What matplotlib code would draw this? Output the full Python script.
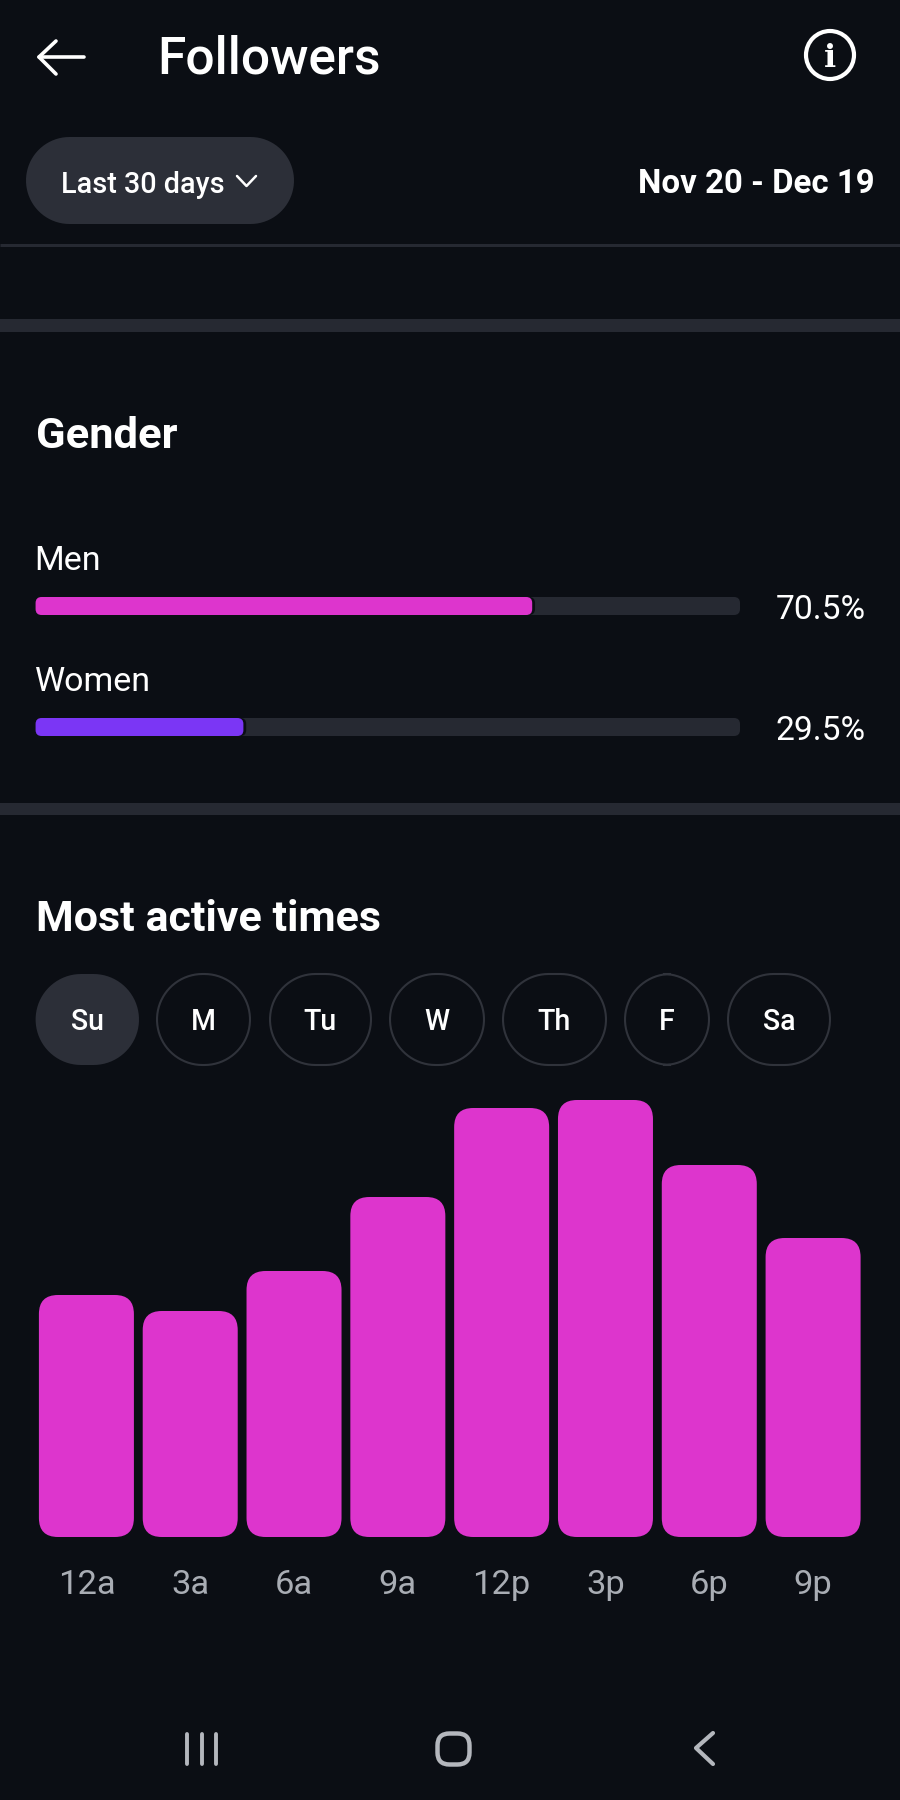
import matplotlib
matplotlib.use("Agg")
import matplotlib.pyplot as plt
from matplotlib.patches import FancyBboxPatch, Circle, Polygon
import numpy as np

plt.rcParams['font.family'] = ['Roboto', 'DejaVu Sans']

# data
genders = ["Men", "Women"]
gender_pct = [70.5, 29.5]
gender_labels = ["70.5%", "29.5%"]
gender_colors = ["#dd35cd", "#7b36f5"]

days = ["Su", "M", "Tu", "W", "Th", "F", "Sa"]
day_lefts = [35.6, 157, 270, 390, 503, 625, 728]
day_rights = [139, 250, 371, 484, 606, 709, 830]

hours = ["12a", "3a", "6a", "9a", "12p", "3p", "6p", "9p"]
activity = [242, 226, 266, 340, 429, 437, 372, 299]

BG = "#0b0e14"
PANEL = "#2c2f38"
TRACK = "#262932"
PINK = "#dd35cd"
GREY = "#a9adb4"
W, H = 900, 1800


def px(size):
    # font size in pixels to points at dpi 100
    return size * 0.72


def pixel_axes(fig, left, right, top, bottom):
    return fig.add_axes([left / W, 1 - bottom / H, (right - left) / W, (bottom - top) / H])


def stadium(left, right, top, bottom, **kw):
    # pill shape with true half circle ends
    r = (bottom - top) / 2
    cy = (top + bottom) / 2
    t = np.linspace(-np.pi / 2, np.pi / 2, 40)
    xs = np.r_[right - r + r * np.cos(t), left + r - r * np.cos(t)]
    ys = np.r_[cy + r * np.sin(t), cy - r * np.sin(t)]
    return Polygon(np.c_[xs, ys], closed=True, **kw)


fig = plt.figure(figsize=(9, 18), dpi=100, facecolor=BG)

ui = fig.add_axes([0, 0, 1, 1])
ui.set_xlim(0, W)
ui.set_ylim(H, 0)
ui.axis('off')

# header
ui.plot([39, 84], [57, 57], color="white", lw=2.6, solid_capstyle='round')
ui.plot([56, 39, 56], [41, 57, 74], color="white", lw=2.6, solid_capstyle='round', solid_joinstyle='round')
ui.text(157, 73, "Followers", color="white", fontsize=px(51.5), fontweight='medium', va='baseline')
ui.add_patch(Circle((830, 55), 24, fill=False, ec="white", lw=3))
ui.text(830, 67, "i", color="white", fontsize=px(32), fontweight='bold', family='DejaVu Serif', ha='center', va='baseline')

# range picker
ui.add_patch(stadium(26, 294, 137, 224, fc=PANEL, ec='none'))
ui.text(61, 193, "Last 30 days", color="white", fontsize=px(28.8), fontweight='medium', va='baseline')
ui.plot([237, 246.5, 256], [176, 186, 176], color="white", lw=1.8, solid_capstyle='round')
ui.text(875, 193, "Nov 20 - Dec 19", color="white", fontsize=px(33), fontweight='bold', ha='right', va='baseline')

# separators
ui.plot([0, W], [245, 245], color=TRACK, lw=2.2, solid_capstyle='butt')
for top, bottom in [(319, 332), (803, 815)]:
    ui.fill_between([0, W], top, bottom, color=TRACK, lw=0)

ui.text(35.5, 448, "Gender", color="white", fontsize=px(43.5), fontweight='bold', va='baseline')
ui.text(35.5, 931, "Most active times", color="white", fontsize=px(43), fontweight='bold', va='baseline')

# gender rows
gender_baselines = [570, 691]
pct_baselines = [619, 740]
for i in range(len(genders)):
    ui.text(34.5, gender_baselines[i], genders[i], color="white", fontsize=px(34), va='baseline')
    ui.text(865.5, pct_baselines[i], gender_labels[i], color="white", fontsize=px(33.7), ha='right', va='baseline')

gax = pixel_axes(fig, 35.6, 740, 597, 736)
gax.set_xlim(0, 100)
gax.set_ylim(1 + 9 / 121, -9 / 121)
gax.axis('off')
g_aspect = 7.044 / 121
g_round = 6 / 7.044
for i, pct in enumerate(gender_pct):
    gax.add_patch(FancyBboxPatch((0, i - 9 / 121), 100, 18 / 121,
                                 boxstyle=f"round,pad=0,rounding_size={g_round}",
                                 fc=TRACK, ec='none', mutation_aspect=g_aspect, clip_on=False))
    # thin dark gap between the fill and the track
    gax.add_patch(FancyBboxPatch((0, i - 9 / 121), pct + 0.4, 18 / 121,
                                 boxstyle=f"round,pad=0,rounding_size={g_round}",
                                 fc=BG, ec='none', mutation_aspect=g_aspect, clip_on=False))
    gax.add_patch(FancyBboxPatch((0, i - 9 / 121), pct, 18 / 121,
                                 boxstyle=f"round,pad=0,rounding_size={g_round}",
                                 fc=gender_colors[i], ec='none', mutation_aspect=g_aspect, clip_on=False))

# day pills
for i, d in enumerate(days):
    selected = d == "Su"
    ui.add_patch(stadium(day_lefts[i], day_rights[i], 974, 1065,
                         fc=PANEL if selected else 'none', ec='none' if selected else "#30333b", lw=1.5))
    ui.text((day_lefts[i] + day_rights[i]) / 2, 1030.5, d, color="white", fontsize=px(28.5), fontweight='medium',
            ha='center', va='baseline')

# activity bars
ax = pixel_axes(fig, 34.5, 865, 1087, 1537)
ax.patch.set_alpha(0)
ax.set_xlim(-0.5, 7.5)
ax.set_ylim(0, 450)
for s in ax.spines.values():
    s.set_visible(False)
ax.set_yticks([])
ax.set_xticks(range(len(hours)))
ax.set_xticklabels(hours, color=GREY, fontsize=px(34.5), va='baseline')
ax.tick_params(axis='x', length=0, pad=41)
bar_w = 95 / 103.8
for i, v in enumerate(activity):
    ax.add_patch(FancyBboxPatch((i - bar_w / 2, 0), bar_w, v,
                                boxstyle=f"round,pad=0,rounding_size={19 / 103.8}",
                                fc=PINK, ec='none', mutation_aspect=103.8))

# nav bar
NAV = "#b4b7bd"
for x in [186.6, 201.5, 216.4]:
    ui.plot([x, x], [1734, 1764], color=NAV, lw=2.8, solid_capstyle='round')
ui.add_patch(FancyBboxPatch((445, 1741), 17, 16, boxstyle="round,pad=7.5,rounding_size=12",
                            fc='none', ec=NAV, lw=3.2))
ui.plot([713, 696, 713], [1733, 1748, 1764], color=NAV, lw=3, solid_capstyle='round', solid_joinstyle='round')

fig.savefig("out.png", dpi=100, facecolor=BG)
